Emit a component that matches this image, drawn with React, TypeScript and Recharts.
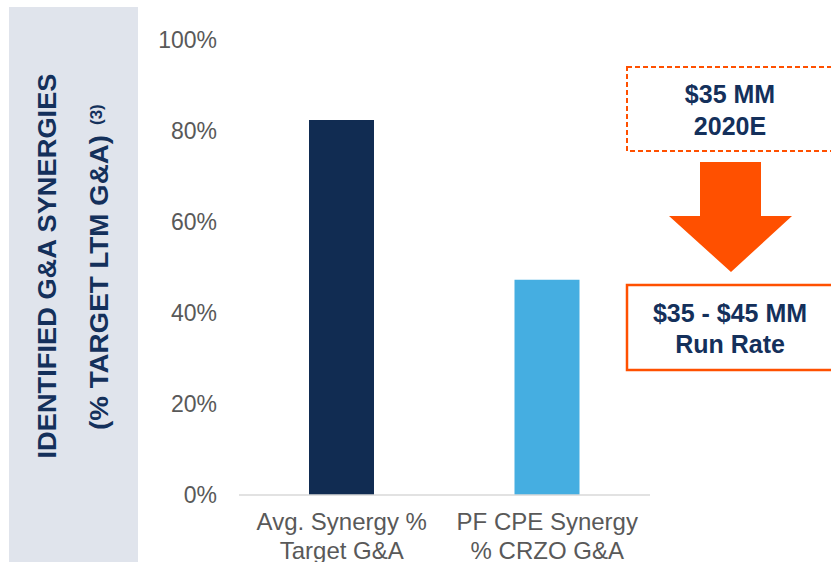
import React from 'react'
import { BarChart, Bar, XAxis, YAxis, Cell } from 'recharts'

const categories = ['Avg. Synergy %\nTarget G&A', 'PF CPE Synergy\n% CRZO G&A']
const synergyPct = [82.4, 47.3]
const barColors = ['#112c52', '#45aee1']
const yTicks = [0, 20, 40, 60, 80, 100]

const titleLine1 = 'IDENTIFIED G&A SYNERGIES'
const titleLine2 = '(% TARGET LTM G&A)'
const titleNote = '(3)'
const estimateBox = ['$35 MM', '2020E']
const runRateBox = ['$35 - $45 MM', 'Run Rate']

const FONT = "'Liberation Sans', Arial, sans-serif"
const NAVY = '#14305b'
const ORANGE = '#ff5000'

const data = categories.map((name, i) => ({ name, value: synergyPct[i] }))

function CategoryTick({ x, y, payload }: any) {
  const lines = String(payload.value).split('\n')
  return (
    <text x={x} y={y} textAnchor="middle" fill="#595959" fontSize={24} fontFamily={FONT}>
      {lines.map((l, i) => (
        <tspan key={i} x={x} dy={i === 0 ? 27 : 29}>
          {l}
        </tspan>
      ))}
    </text>
  )
}

export default function App() {
  return (
    <div style={{ position: 'absolute', left: 0, top: 0, width: 831, height: 562, background: '#fff', overflow: 'hidden' }}>
      {/* side panel + rotated title */}
      <svg width={831} height={562} style={{ position: 'absolute', left: 0, top: 0 }}>
        <rect x={9} y={7} width={129} height={560} fill="#e0e4ec" />
        <text
          transform="translate(56,266) rotate(-90)"
          textAnchor="middle"
          fill={NAVY}
          fontSize={26}
          fontWeight={700}
          fontFamily={FONT}
          textLength={385}
          lengthAdjust="spacingAndGlyphs"
        >
          {titleLine1}
        </text>
        <text
          transform="translate(108,430) rotate(-90)"
          textAnchor="start"
          fill={NAVY}
          fontSize={26}
          fontWeight={700}
          fontFamily={FONT}
          textLength={295}
          lengthAdjust="spacingAndGlyphs"
        >
          {titleLine2}
        </text>
        <text
          transform="translate(102,125) rotate(-90)"
          textAnchor="start"
          fill={NAVY}
          fontSize={17}
          fontWeight={700}
          fontFamily={FONT}
        >
          {titleNote}
        </text>
      </svg>

      <div style={{ position: 'absolute', left: 0, top: 0 }}>
        <BarChart width={831} height={562} data={data} margin={{ top: 40, right: 181, left: 159, bottom: 7 }}>
          <XAxis
            dataKey="name"
            height={60}
            interval={0}
            axisLine={{ stroke: '#d9d9d9', strokeWidth: 1.5 }}
            tickLine={false}
            tick={<CategoryTick />}
          />
          <YAxis
            width={80}
            domain={[0, 100]}
            ticks={yTicks}
            axisLine={false}
            tickLine={false}
            tickMargin={16}
            tickFormatter={(v) => `${v}%`}
            tick={{ fontSize: 23, fill: '#595959', fontFamily: FONT }}
          />
          <Bar dataKey="value" barSize={65} isAnimationActive={false}>
            {data.map((_, i) => (
              <Cell key={i} fill={barColors[i]} />
            ))}
          </Bar>
        </BarChart>
      </div>

      {/* callouts */}
      <svg width={831} height={562} style={{ position: 'absolute', left: 0, top: 0 }}>
        <rect x={627} y={67} width={230} height={84} fill="none" stroke={ORANGE} strokeWidth={2} strokeDasharray="5 3" />
        <text x={730} y={103} textAnchor="middle" fill={NAVY} fontSize={25} fontWeight={700} fontFamily={FONT}>
          {estimateBox[0]}
        </text>
        <text x={730} y={135} textAnchor="middle" fill={NAVY} fontSize={25} fontWeight={700} fontFamily={FONT}>
          {estimateBox[1]}
        </text>
        <polygon points="700,162 761,162 761,216 792,216 731,272 669,216 700,216" fill={ORANGE} />
        <rect x={627} y={285} width={230} height={85} fill="none" stroke={ORANGE} strokeWidth={2.5} />
        <text x={730} y={322} textAnchor="middle" fill={NAVY} fontSize={25} fontWeight={700} fontFamily={FONT}>
          {runRateBox[0]}
        </text>
        <text x={730} y={353} textAnchor="middle" fill={NAVY} fontSize={25} fontWeight={700} fontFamily={FONT}>
          {runRateBox[1]}
        </text>
      </svg>
    </div>
  )
}
